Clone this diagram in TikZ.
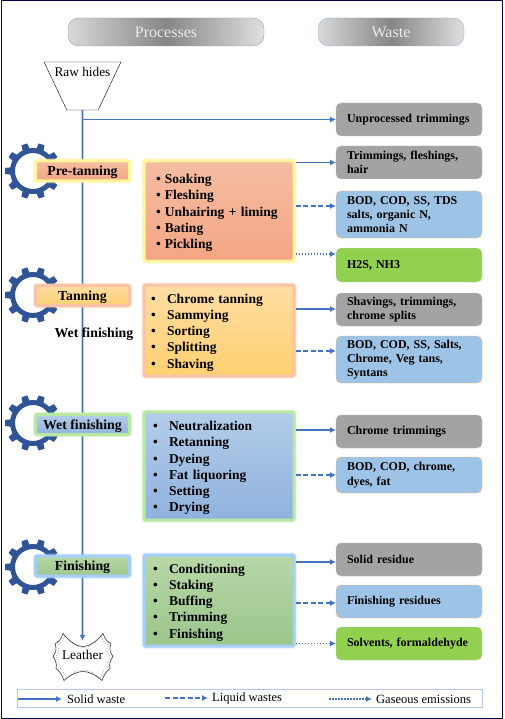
\documentclass[tikz,border=0pt]{standalone}
\usepackage{fontspec}
\setmainfont{Liberation Serif}
\usetikzlibrary{arrows.meta, positioning, shapes.geometric}
\definecolor{flowblue}{HTML}{4472C4}
\definecolor{gearblue}{HTML}{2F5597}
\definecolor{solidgray}{HTML}{A3A3A3}
\definecolor{liquidblue}{HTML}{9DC3E6}
\definecolor{gasgreen}{HTML}{92D050}
\definecolor{pretantop}{HTML}{F5BDA3}
\definecolor{pretanbot}{HTML}{F4A582}
\definecolor{pretanglow}{HTML}{FFF59A}
\definecolor{tantop}{HTML}{FFDDA3}
\definecolor{tanbot}{HTML}{FFD071}
\definecolor{tanglow}{HTML}{F9C3A5}
\definecolor{wettop}{HTML}{B3CDE9}
\definecolor{wetbot}{HTML}{8FB2DE}
\definecolor{wetglow}{HTML}{B9E8A5}
\definecolor{fintop}{HTML}{B7D8A8}
\definecolor{finbot}{HTML}{9CC58B}
\definecolor{finglow}{HTML}{A3CFFA}
\newcommand{\bitem}[2]{\rule{0pt}{13.3pt}\makebox[#1][l]{\textbullet}#2}
\tikzset{
  pill/.style={draw=gray!80,rounded corners=11pt,minimum height=28pt,outer sep=0pt,text=white!92!black,font=\fontsize{16}{18}\selectfont,left color=gray!30,right color=gray!25,middle color=gray!95},
  stagebox/.style n args={3}{draw=#1,line width=3pt,rounded corners=2pt,top color=#2,bottom color=#3,preaction={draw=#1,line width=5pt,opacity=.4},minimum width=94pt,minimum height=20pt,inner sep=0pt,text height=9.3pt,text depth=0pt,font=\fontsize{13.8}{16}\selectfont\bfseries},
  procbox/.style n args={3}{draw=#1,line width=3pt,rounded corners=2pt,top color=#2,bottom color=#3,preaction={draw=#1,line width=5pt,opacity=.4},minimum width=150pt,inner sep=0pt,align=left,font=\fontsize{13.5}{16.3}\selectfont\bfseries},
  wastebox/.style={rounded corners=5pt,minimum width=146pt,minimum height=33pt,text width=124pt,inner sep=0pt,outer sep=0pt,align=left,font=\fontsize{12}{14.3}\selectfont\bfseries},
  solidw/.style={wastebox,fill=solidgray,draw=gray!50},
  liquidw/.style={wastebox,fill=liquidblue,draw=orange!55},
  gasw/.style={wastebox,fill=gasgreen,draw=gray!40},
  solidline/.style={draw=flowblue,line width=1.8pt,-{Latex[length=6pt,width=6pt]}},
  liquidline/.style={solidline,dash pattern=on 5pt off 2.5pt},
  gasline/.style={solidline,dash pattern=on 1.5pt off 1.5pt},
  legtext/.style={inner sep=0pt,font=\fontsize{12.5}{14}\selectfont},
  gearpic/.pic={
    \fill[gearblue,even odd rule] (0,0) circle (23) (0,0) circle (18);
    \foreach \a in {0,36,...,324}
      \fill[gearblue,rotate=\a] (21,-3.8) -- (28,-3) -- (28,3) -- (21,3.8) -- cycle;
  }
}
\begin{document}
\begin{tikzpicture}[x=1pt,y=-1pt,node distance=10pt]
\useasboundingbox (0,0) rectangle (504,719);
\draw[color=black!70!blue,line width=1pt] (1,1) rectangle (502,718);
% headings
\node[pill,minimum width=196pt] (processes) at (166,32) {Processes};
\node[pill,minimum width=146pt,draw=flowblue!60] (waste) at (391,32) {Waste};
% gears
\foreach \y in {171,295,423,567}
  \pic at (33,\y) {gearpic};
% waste column
\node[solidw,anchor=north west] (unproc) at (336,103) {Unprocessed trimmings};
\node[solidw,below=of unproc] (trim) {Trimmings, fleshings,\\hair};
\node[liquidw,below=12pt of trim,minimum height=47pt] (bodA) {BOD, COD, SS, TDS\\salts, organic N,\\ammonia N};
\node[gasw,below=of bodA,minimum height=34pt] (gasA) {H2S, NH3};
\node[solidw,below=11pt of gasA] (shav) {Shavings, trimmings,\\chrome splits};
\node[liquidw,below=of shav,minimum height=47pt] (bodB) {BOD, COD, SS, Salts,\\Chrome, Veg tans,\\Syntans};
\node[solidw,below=32pt of bodB] (chrome) {Chrome trimmings};
\node[liquidw,below=9pt of chrome,minimum height=36pt] (bodC) {BOD, COD, chrome,\\dyes, fat};
\node[solidw,below=50pt of bodC] (resid) {Solid residue};
\node[liquidw,below=9pt of resid] (finres) {Finishing residues};
\node[gasw,below=9pt of finres] (solv) {Solvents, formaldehyde};
% raw hides and leather
\node[draw,trapezium,shape border rotate=180,trapezium stretches=true,trapezium left angle=26.5,trapezium right angle=26.5,minimum width=77pt,minimum height=48pt,inner sep=0pt] (raw) at (82.5,86) {\phantom{Raw}};
\node[below=5pt of raw.north,inner sep=0pt,font=\fontsize{13.3}{15}\selectfont] (rawtext) {Raw hides};
\def\hidepath{(-20,-23) .. controls (-12,-13) and (-5,-10) .. (0,-10) .. controls (5,-10) and (12,-13) .. (20,-23)
  .. controls (22,-17) and (25,-14) .. (28,-13) .. controls (26,-8) and (27,-4) .. (30,0) .. controls (27,4) and (26,8) .. (27,12)
  .. controls (24,14) and (21,18) .. (19,24) .. controls (12,18) and (6,15) .. (0,15) .. controls (-6,15) and (-12,18) .. (-19,24)
  .. controls (-21,18) and (-24,14) .. (-27,12) .. controls (-26,8) and (-27,4) .. (-30,0) .. controls (-27,-4) and (-26,-8) .. (-28,-13)
  .. controls (-25,-14) and (-22,-17) .. cycle}
\begin{scope}[shift={(83,656.5)}]
\draw[black!80,line width=.6pt] \hidepath;
\draw[black!70,line width=.5pt,dotted,scale=.9] \hidepath;
\end{scope}
\node[inner sep=0pt,minimum height=28pt,font=\fontsize{13.4}{15}\selectfont] (leather) at (82.5,655) {Leather};
% main line
\draw[solidline] (raw.south) -- (leather.north);
\draw[solidline] (raw.south |- unproc.west) -- (unproc.west);
% stages
\node[stagebox={pretanglow}{pretantop}{pretanbot}] (pretan) at (82.5,171) {Pre-tanning};
\node[stagebox={tanglow}{tantop}{tanbot}] (tan) at (82.5,295.5) {Tanning};
\node[stagebox={wetglow}{wettop}{wetbot}] (wet) at (82.5,424.5) {Wet finishing};
\node[stagebox={finglow}{fintop}{finbot}] (fin) at (82.5,566) {Finishing};
\node[inner sep=0pt,font=\fontsize{13.8}{16}\selectfont\bfseries] (wetfloat) at (94,334) {Wet finishing};
% process boxes
\node[procbox={pretanglow}{pretantop}{pretanbot},minimum height=100pt,text width=126pt] (procA) at (219,211) {\bitem{9pt}{Soaking}\\\bitem{9pt}{Fleshing}\\\bitem{9pt}{Unhairing + liming}\\\bitem{9pt}{Bating}\\\bitem{9pt}{Pickling}};
\node[procbox={tanglow}{tantop}{tanbot},minimum height=91pt,text width=136pt] (procB) at (219,330.5) {\bitem{16pt}{Chrome tanning}\\\bitem{16pt}{Sammying}\\\bitem{16pt}{Sorting}\\\bitem{16pt}{Splitting}\\\bitem{16pt}{Shaving}};
\node[procbox={wetglow}{wettop}{wetbot},minimum height=108pt,text width=132pt] (procC) at (219,466) {\bitem{16pt}{Neutralization}\\\bitem{16pt}{Retanning}\\\bitem{16pt}{Dyeing}\\\bitem{16pt}{Fat liquoring}\\\bitem{16pt}{Setting}\\\bitem{16pt}{Drying}};
\node[procbox={finglow}{fintop}{finbot},minimum height=91pt,text width=132pt] (procD) at (219,600.5) {\bitem{16pt}{Conditioning}\\\bitem{16pt}{Staking}\\\bitem{16pt}{Buffing}\\\bitem{16pt}{Trimming}\\\bitem{16pt}{Finishing}};
% waste arrows
\draw[solidline] (procA.east |- trim.west) -- (trim.west);
\draw[liquidline] (procA.east |- 0,206) -- (bodA.west |- 0,206);
\draw[gasline] (procA.east |- 0,254) -- (gasA.west |- 0,254);
\draw[solidline] (procB.east |- 0,309) -- (shav.west |- 0,309);
\draw[liquidline] (procB.east |- 0,351) -- (bodB.west |- 0,351);
\draw[solidline] (procC.east |- 0,430) -- (chrome.west |- 0,430);
\draw[liquidline] (procC.east |- 0,475) -- (bodC.west |- 0,475);
\draw[solidline] (procD.east |- 0,562) -- (resid.west |- 0,562);
\draw[liquidline] (procD.east |- 0,603) -- (finres.west |- 0,603);
\draw[gasline] (procD.east |- solv.west) -- (solv.west);
% legend
\node[draw=flowblue!40,line width=.8pt,minimum width=465pt,minimum height=18pt,inner sep=0pt] (legend) at (249.5,698) {};
\node[legtext,anchor=west] (soltext) at (67,699) {Solid waste};
\node[legtext,anchor=west] (liqtext) at (212,698) {Liquid wastes};
\node[legtext,anchor=west] (gastext) at (376,699) {Gaseous emissions};
\coordinate (solstart) at (18,699);
\coordinate (liqstart) at (165,698);
\coordinate (gasstart) at (329,699);
\draw[solidline] (solstart) -- ([xshift=-5pt]soltext.west);
\draw[liquidline] (liqstart) -- ([xshift=-4pt]liqtext.west);
\draw[gasline] (gasstart) -- ([xshift=-4pt]gastext.west);
\end{tikzpicture}
\end{document}
